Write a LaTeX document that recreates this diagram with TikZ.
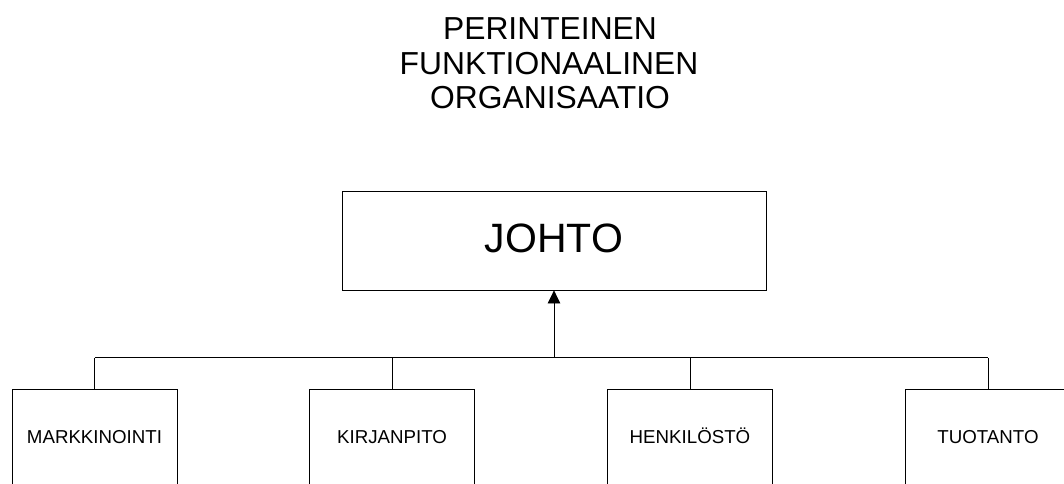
\documentclass[tikz,border=0pt]{standalone}
\usepackage{fontspec}
\setmainfont{Liberation Sans}
\usetikzlibrary{arrows.meta}
\tikzset{
  unitbox/.style={draw=black, line width=0.8pt, fill=white, minimum width=165pt, minimum height=96pt, inner sep=0pt,
    font=\fontsize{18.7}{22}\selectfont, text height=13.4pt, text depth=0pt},
  headbox/.style={draw=black, line width=0.8pt, fill=white, minimum width=424pt, minimum height=99pt, inner sep=0pt,
    font=\fontsize{41}{48}\selectfont, text height=29.4pt, text depth=5pt},
  titletext/.style={anchor=base, inner sep=0pt, font=\fontsize{31.8}{36}\selectfont},
  link/.style={draw=black, line width=0.8pt},
  uparrow/.style={draw=black, line width=0.8pt, -{Triangle[length=13pt,width=12.5pt]}}
}
\begin{document}
\begin{tikzpicture}[x=1pt,y=-1pt]
\useasboundingbox (0,0) rectangle (1064,483);
\fill[white] (0,0) rectangle (1064,483);
\begin{scope}
\clip (0,0) rectangle (1064,483);
\node[titletext] (t1) at (550,39.5) {PERINTEINEN};
\node[titletext] (t2) at (549,74) {FUNKTIONAALINEN};
\node[titletext] (t3) at (550,108.5) {ORGANISAATIO};

\node[headbox] (johto) at (554,240.5) {JOHTO};

\node[unitbox] (mark) at (94.5,437) {MARKKINOINTI};
\node[unitbox] (kirj) at (392,437) {KIRJANPITO};
\node[unitbox] (henk) at (690,437) {HENKILÖSTÖ};
\node[unitbox] (tuot) at (988,437) {TUOTANTO};

\coordinate (jn) at (554,357.5);
\coordinate (hl) at (mark.north |- jn);
\coordinate (hr) at (tuot.north |- jn);
\draw[link] (hl) -- (hr);
\draw[link] (mark.north) -- (mark.north |- jn);
\draw[link] (kirj.north) -- (kirj.north |- jn);
\draw[link] (henk.north) -- (henk.north |- jn);
\draw[link] (tuot.north) -- (tuot.north |- jn);
\draw[uparrow] (jn) -- (johto.south);
\end{scope}
\end{tikzpicture}
\end{document}
